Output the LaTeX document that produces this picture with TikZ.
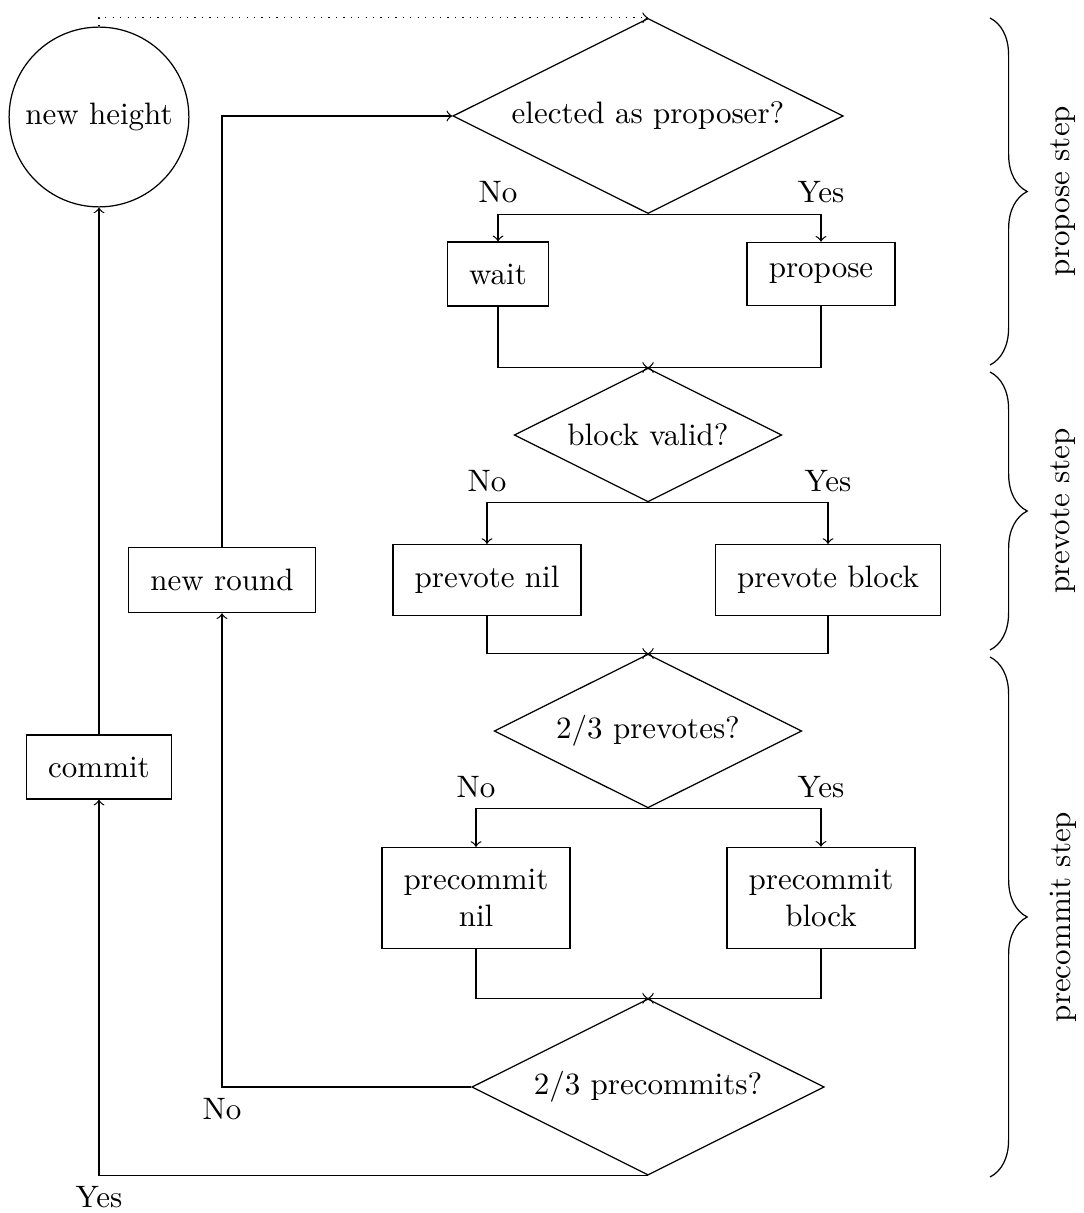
\documentclass[tikz,border=0pt]{standalone}
\usepackage{amsmath,amsfonts,amssymb}
\usepackage{tikz}
\usetikzlibrary{shapes,arrows,decorations.pathreplacing}

\begin{document}
\begin{tikzpicture}[x=0.3226pt,y=-0.3226pt,
        decision/.style={diamond, draw, aspect=2},
        block/.style={rectangle, draw, inner sep=7pt, align=center},
        state/.style={circle, draw, minimum size=58pt},
        stepbrace/.style={decorate, decoration={brace, amplitude=12pt}}]
        \useasboundingbox (0,0) rectangle (1083,1213);

        % States and blocks:
        \node[state] (height) at (99,117) {new height};
        \node[decision] (elected) at (648,116) {elected as proposer?};
        \node[block] (wait) at (498,274) {wait};
        \node[block] (propose) at (821,274) {propose};
        \node[decision] (valid) at (648,435) {block valid?};
        \node[block] (prevotenil) at (487,580) {prevote nil};
        \node[block] (prevoteblock) at (828,580) {prevote block};
        \node[decision] (prevotes) at (648,731) {2/3 prevotes?};
        \node[block] (precommitnil) at (476,898) {precommit\\nil};
        \node[block] (precommitblock) at (821,898) {precommit\\block};
        \node[decision] (precommits) at (648,1087) {2/3 precommits?};
        \node[block] (round) at (222,580) {new round};
        \node[block] (commit) at (99,767) {commit};

        % Edges:
        \draw[->] (elected.south) -| node[pos=.5, above] (no1) {No} (wait);
        \draw[->] (elected.south) -| node[pos=.5, above] (yes1) {Yes} (propose);
        \draw[->] (wait.south) |- (valid.north);
        \draw[->] (propose.south) |- (valid.north);

        \draw[->] (valid.south) -| node[pos=.5, above] (no2) {No} (prevotenil);
        \draw[->] (valid.south) -| node[pos=.5, above] (yes2) {Yes} (prevoteblock);
        \draw[->] (prevotenil.south) |- (prevotes.north);
        \draw[->] (prevoteblock.south) |- (prevotes.north);

        \draw[->] (prevotes.south) -| node[pos=.5, above] (no3) {No} (precommitnil);
        \draw[->] (prevotes.south) -| node[pos=.5, above] (yes3) {Yes} (precommitblock);
        \draw[->] (precommitnil.south) |- (precommits.north);
        \draw[->] (precommitblock.south) |- (precommits.north);

        \draw[->] (precommits.west) -| node[pos=.5, below] (no4) {No} (round);
        \draw[->] (precommits.south) -| node[pos=.5, below] (yes4) {Yes} (commit);
        \draw[->] (commit) -- (height);
        \draw[->] (round) |- (elected);
        \draw[->, dotted] (height) |- (elected.north);

        % Steps:
        \draw[stepbrace] (990,18) -- (990,365);
        \node[rotate=90] (proposestep) at (1063,191) {propose step};
        \draw[stepbrace] (990,372) -- (990,650);
        \node[rotate=90] (prevotestep) at (1063,511) {prevote step};
        \draw[stepbrace] (990,657) -- (990,1177);
        \node[rotate=90] (precommitstep) at (1063,917) {precommit step};
\end{tikzpicture}
\end{document}
